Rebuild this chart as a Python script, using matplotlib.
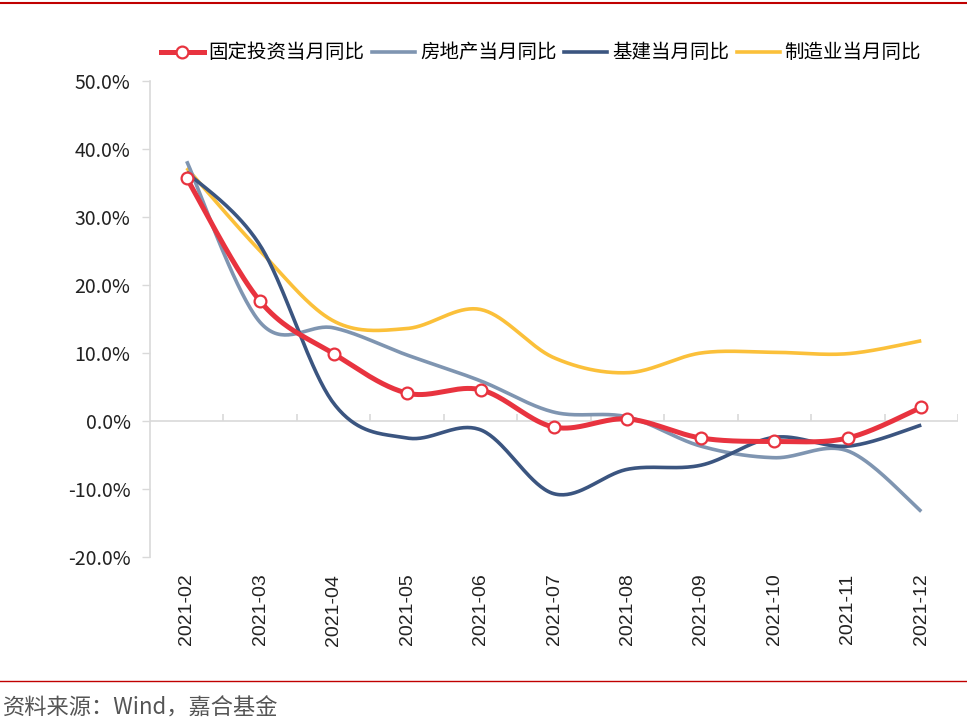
import numpy as np
import matplotlib
matplotlib.use("Agg")
from matplotlib import pyplot as plt
from matplotlib.lines import Line2D

plt.rcParams['font.family'] = ['Noto Sans CJK SC', 'DejaVu Sans']

months = ['2021-02', '2021-03', '2021-04', '2021-05', '2021-06', '2021-07',
          '2021-08', '2021-09', '2021-10', '2021-11', '2021-12']
fixed_inv = [35.7, 17.6, 9.9, 4.1, 4.6, -0.9, 0.3, -2.5, -3.0, -2.5, 2.0]
real_estate = [38.2, 14.5, 13.7, 9.7, 5.9, 1.3, 0.6, -3.7, -5.4, -4.4, -13.3]
infra = [36.6, 25.8, 2.6, -2.5, -1.3, -10.7, -7.1, -6.5, -2.4, -3.7, -0.6]
manufacturing = [37.2, 25.0, 14.7, 13.6, 16.4, 9.3, 7.1, 10.0, 10.1, 9.9, 11.8]

names = ['固定投资当月同比', '房地产当月同比', '基建当月同比', '制造业当月同比']
colors = ['#E8333F', '#7F95B1', '#3B5580', '#FBC03A']


def smooth(y, n=40):
    # catmull-rom style smoothing like excel "smoothed line"
    y = np.asarray(y, dtype=float)
    x = np.arange(len(y), dtype=float)
    pts = np.column_stack([x, y])
    pad = np.vstack([pts[0], pts, pts[-1]])
    out = []
    t = np.linspace(0, 1, n)[:, None]
    for i in range(len(pts) - 1):
        p0, p1, p2, p3 = pad[i], pad[i + 1], pad[i + 2], pad[i + 3]
        c1 = p1 + (p2 - p0) / 6
        c2 = p2 - (p3 - p1) / 6
        seg = ((1 - t) ** 3) * p1 + 3 * ((1 - t) ** 2) * t * c1 + 3 * (1 - t) * t ** 2 * c2 + t ** 3 * p2
        out.append(seg if i == 0 else seg[1:])
    out = np.vstack(out)
    return out[:, 0], out[:, 1]


fig = plt.figure(figsize=(9.67, 7.26), dpi=100)
ax = fig.add_axes([150 / 967, 1 - 557 / 726, (958 - 150) / 967, (557 - 81) / 726])

series = [fixed_inv, real_estate, infra, manufacturing]
widths = [3.6, 2.6, 2.6, 2.6]
# draw so red ends on top
for idx in [3, 1, 2, 0]:
    sx, sy = smooth(series[idx])
    ax.plot(sx, sy, color=colors[idx], lw=widths[idx], solid_capstyle='butt', zorder=3 + (idx == 0))
ax.plot(range(len(months)), fixed_inv, ls='none', marker='o', ms=8.5, mfc='white',
        mec=colors[0], mew=1.6, zorder=5)

ax.set_xlim(-0.5, len(months) - 0.5)
ax.set_ylim(-20, 50)
ax.set_yticks(np.arange(-20, 51, 10))
ax.set_yticklabels(['%.1f%%' % v for v in np.arange(-20, 51, 10)], fontsize=14, color='#222222')
ax.tick_params(axis='y', length=6, width=1, color='#D9D9D9', pad=8)

ax.set_xticks(range(len(months)))
ax.set_xticklabels(months, rotation=90, fontsize=14, color='#222222',
                   family=['Liberation Sans', 'DejaVu Sans'])
ax.tick_params(axis='x', length=0, pad=12)

for s in ['top', 'right', 'bottom']:
    ax.spines[s].set_visible(False)
ax.spines['left'].set_color('#D9D9D9')
ax.spines['left'].set_linewidth(1.2)

ax.axhline(0, color='#D9D9D9', lw=1.2, zorder=1)
ax.vlines(np.arange(0.5, len(months), 1), 0, 1.05, color='#D9D9D9', lw=1.2, zorder=1)

handles = [
    Line2D([], [], color=colors[0], lw=3.6, marker='o', ms=8.5, mfc='white', mec=colors[0], mew=1.6),
    Line2D([], [], color=colors[1], lw=2.6),
    Line2D([], [], color=colors[2], lw=2.6),
    Line2D([], [], color=colors[3], lw=2.6),
]
fig.legend(handles, names, loc='center', bbox_to_anchor=(541 / 967, 1 - 53 / 726), ncol=4,
           frameon=False, fontsize=14, handlelength=2.2, handletextpad=0.25, columnspacing=0.4,
           borderpad=0)

# red rules top and bottom
fig.add_artist(Line2D([0, 1], [1 - 3 / 726, 1 - 3 / 726], color='#C00000', lw=1.5))
fig.add_artist(Line2D([0, 1], [1 - 681 / 726, 1 - 681 / 726], color='#C00000', lw=1.0))
fig.text(3 / 967, 1 - 708 / 726, '资料来源：Wind，嘉合基金', fontsize=16, color='#555555',
         va='center', ha='left')

fig.savefig('out.png', dpi=100)
